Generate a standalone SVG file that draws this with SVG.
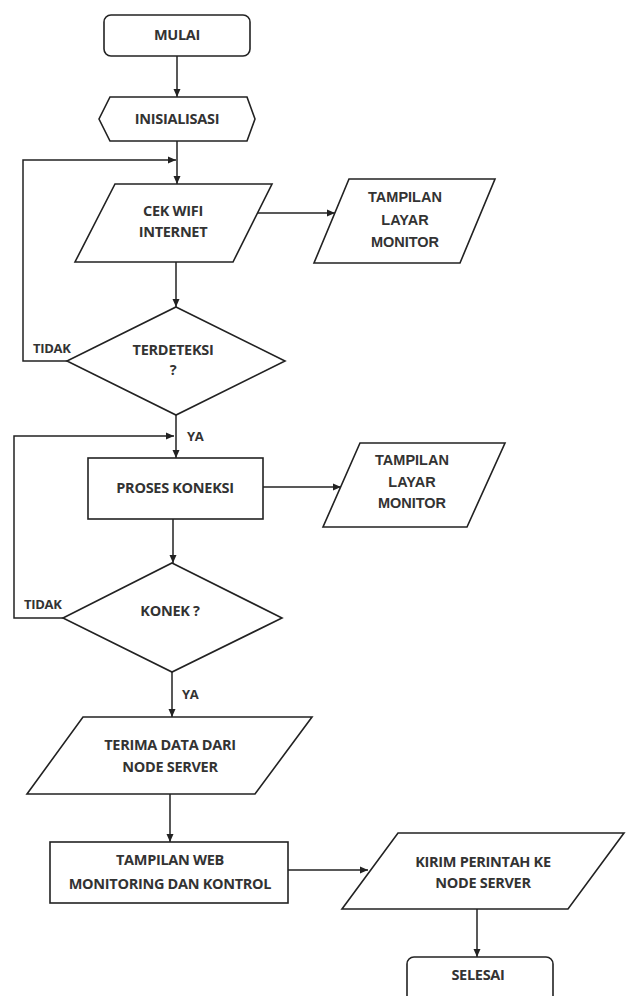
<svg xmlns="http://www.w3.org/2000/svg" width="627" height="996" viewBox="0 0 627 996">
<defs>
<style>
.shape{fill:#fff;stroke:#222;stroke-width:1.6}
.t{font-family:"Open Sans","Liberation Sans",sans-serif;font-weight:700;font-size:14.5px;fill:#333;text-anchor:middle;letter-spacing:-0.3px}
.a{font-family:"Liberation Sans",Arial,sans-serif;font-weight:700;font-size:14.5px;fill:#333;text-anchor:middle}
.lbl{font-family:"Open Sans","Liberation Sans",sans-serif;font-weight:700;font-size:13px;fill:#333;letter-spacing:-0.3px}
.c{fill:none;stroke:#222;stroke-width:1.5;marker-end:url(#ah)}
</style>
<marker id="ah" viewBox="0 0 8 8" refX="8" refY="4" markerWidth="8" markerHeight="8" markerUnits="userSpaceOnUse" orient="auto">
<path d="M0,0.5 L8,4 L0,7.5 Z" fill="#222"/>
</marker>
</defs>
<rect width="627" height="996" fill="#fff"/>
<g id="connectors">
<path class="c" d="M177,56 V97"/>
<path class="c" d="M177,141 V184"/>
<path class="c" d="M67,361 H23 V160 H176"/>
<path class="c" d="M257,213 H335"/>
<path class="c" d="M176,262 V307"/>
<path class="c" d="M176,415 V458"/>
<path class="c" d="M63,618 H14 V436 H174"/>
<path class="c" d="M263,487 H341"/>
<path class="c" d="M173,519 V563"/>
<path class="c" d="M172,672 V717"/>
<path class="c" d="M170,794 V842"/>
<path class="c" d="M288,870 H368"/>
<path class="c" d="M477,909 V957"/>
</g>
<g id="mulai">
<rect class="shape" x="104" y="15" width="146" height="41" rx="7"/>
<text class="t" x="177" y="40">MULAI</text>
</g>
<g id="inisialisasi">
<polygon class="shape" points="110,97 247,97 255,119 247,141 110,141 99,119"/>
<text class="t" x="177" y="124">INISIALISASI</text>
</g>
<g id="cek-wifi">
<polygon class="shape" points="115,184 272,184 233,262 75,262"/>
<text class="t" x="173" y="216">CEK WIFI</text>
<text class="t" x="173" y="237">INTERNET</text>
</g>
<g id="tampilan-1">
<polygon class="shape" points="349,179 495,179 460,263 314,263"/>
<text class="a" x="405" y="202">TAMPILAN</text>
<text class="a" x="405" y="225">LAYAR</text>
<text class="a" x="405" y="247">MONITOR</text>
</g>
<g id="terdeteksi">
<polygon class="shape" points="176,307 285,361 176,415 67,361"/>
<text class="t" x="173" y="355">TERDETEKSI</text>
<text class="t" x="173" y="375">?</text>
</g>
<g id="proses-koneksi">
<rect class="shape" x="88" y="458" width="175" height="61"/>
<text class="t" x="175" y="493">PROSES KONEKSI</text>
</g>
<g id="tampilan-2">
<polygon class="shape" points="360,443 505,443 467,527 323,527"/>
<text class="a" x="412" y="465">TAMPILAN</text>
<text class="a" x="412" y="487">LAYAR</text>
<text class="a" x="412" y="508">MONITOR</text>
</g>
<g id="konek">
<polygon class="shape" points="172,563 282,618 172,672 63,618"/>
<text class="t" x="170" y="616">KONEK ?</text>
</g>
<g id="terima-data">
<polygon class="shape" points="83,717 312,717 255,794 27,794"/>
<text class="t" x="170" y="750">TERIMA DATA DARI</text>
<text class="t" x="170" y="772">NODE SERVER</text>
</g>
<g id="tampilan-web">
<rect class="shape" x="50" y="842" width="238" height="61"/>
<text class="t" x="170" y="865">TAMPILAN WEB</text>
<text class="t" x="170" y="889">MONITORING DAN KONTROL</text>
</g>
<g id="kirim-perintah">
<polygon class="shape" points="398,833 624,833 568,909 342,909"/>
<text class="t" x="483" y="867">KIRIM PERINTAH KE</text>
<text class="t" x="483" y="888">NODE SERVER</text>
</g>
<g id="selesai">
<rect class="shape" x="407" y="957" width="146" height="48" rx="7"/>
<text class="t" x="478" y="980">SELESAI</text>
</g>
<g id="labels">
<text class="lbl" x="33" y="353">TIDAK</text>
<text class="lbl" x="187" y="441">YA</text>
<text class="lbl" x="24" y="609">TIDAK</text>
<text class="lbl" x="182" y="699">YA</text>
</g>
</svg>
